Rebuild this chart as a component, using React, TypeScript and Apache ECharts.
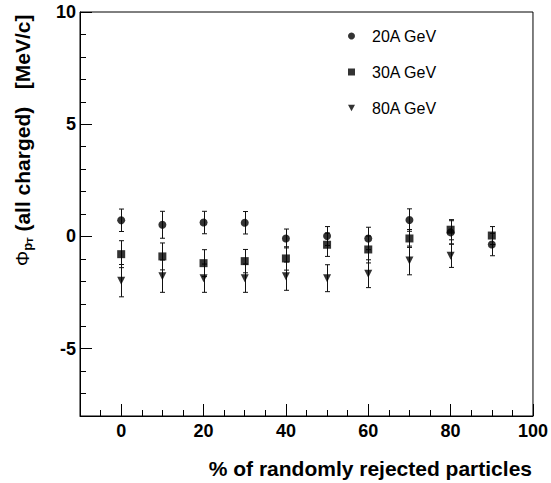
import React, { useEffect, useRef } from "react";
import * as echarts from "echarts";

const xPct = [0, 10, 20, 30, 40, 50, 60, 70, 80, 90];
const names = ["20A GeV", "30A GeV", "80A GeV"];
const y20 = [0.72, 0.52, 0.62, 0.61, -0.09, 0.02, -0.09, 0.73, 0.18, -0.36];
const e20 = [0.5, 0.6, 0.5, 0.5, 0.42, 0.42, 0.5, 0.5, 0.52, 0.5];
const y30 = [-0.79, -0.89, -1.19, -1.1, -0.98, -0.37, -0.58, -0.09, 0.3, 0.04];
const e30 = [0.6, 0.6, 0.6, 0.52, 0.52, 0.52, 0.6, 0.4, 0.45, 0.4];
const y80 = [-1.97, -1.77, -1.86, -1.86, -1.77, -1.86, -1.66, -1.07, -0.86];
const e80 = [0.72, 0.72, 0.63, 0.63, 0.63, 0.6, 0.62, 0.64, 0.52];
const xMajor = [0, 20, 40, 60, 80, 100];
const yMajor = [-5, 0, 5, 10];

const FONT = "'Liberation Sans', Arial, Helvetica, sans-serif";
const TRI = "path://M0,0L10,0L5,9Z";

function pts(ys: number[], es: number[]) {
  return ys.map((v, i) => [xPct[i], v, es[i]]);
}

function errSeries(name: string, ys: number[], es: number[]) {
  return {
    type: "custom",
    name: name + " err",
    z: 1,
    data: pts(ys, es),
    renderItem: (params: any, api: any) => {
      const x = api.value(0);
      const y = api.value(1);
      const e = api.value(2);
      const t = api.coord([x, y + e]);
      const b = api.coord([x, y - e]);
      const cx = Math.round(t[0]) + 0.5;
      const cap = 2.5;
      const st = { stroke: "#111", lineWidth: 1 };
      return {
        type: "group",
        children: [
          { type: "line", shape: { x1: cx, y1: t[1], x2: cx, y2: b[1] }, style: st },
          { type: "line", shape: { x1: cx - cap, y1: t[1], x2: cx + cap, y2: t[1] }, style: st },
          { type: "line", shape: { x1: cx - cap, y1: b[1], x2: cx + cap, y2: b[1] }, style: st },
        ],
      };
    },
  };
}

export default function App() {
  const ref = useRef<HTMLDivElement>(null);
  useEffect(() => {
    const chart = echarts.init(ref.current!, null, { renderer: "svg" });
    const axisBase = {
      axisLine: { show: true, onZero: false, lineStyle: { color: "#000", width: 1 } },
      splitLine: { show: false },
    };
    const minorBase = {
      axisLine: { show: false, onZero: false },
      splitLine: { show: false },
      axisTick: { show: true, inside: true, length: 6, lineStyle: { color: "#000", width: 1 } },
      axisLabel: { show: false },
    };
    chart.setOption({
      animation: false,
      backgroundColor: "#fff",
      grid: {
        left: 80,
        right: 18,
        top: 12,
        bottom: 67,
        show: true,
        borderColor: "#000",
        borderWidth: 1,
        backgroundColor: "transparent",
      },
      legend: {
        data: [
          { name: names[0], icon: "circle" },
          { name: names[1], icon: "rect" },
          { name: names[2], icon: TRI },
        ],
        orient: "vertical",
        left: 343,
        top: 21,
        itemWidth: 7,
        itemHeight: 7,
        itemGap: 16,
        selectedMode: false,
        textStyle: {
          fontFamily: FONT,
          fontSize: 16,
          color: "#000",
          lineHeight: 20,
          padding: [0, 0, 0, 12],
        },
      },
      xAxis: [
        {
          type: "value",
          min: -10,
          max: 100,
          position: "bottom",
          ...axisBase,
          axisTick: {
            show: true,
            inside: true,
            length: 12,
            customValues: xMajor,
            lineStyle: { color: "#000", width: 1 },
          },
          axisLabel: {
            show: true,
            customValues: xMajor,
            margin: 6,
            color: "#000",
            fontFamily: FONT,
            fontWeight: "bold",
            fontSize: 18,
          },
        },
        {
          type: "value",
          min: -10,
          max: 100,
          interval: 5,
          position: "bottom",
          ...minorBase,
        },
      ],
      yAxis: [
        {
          type: "value",
          min: -8,
          max: 10,
          position: "left",
          ...axisBase,
          axisTick: {
            show: true,
            inside: true,
            length: 12,
            customValues: yMajor,
            lineStyle: { color: "#000", width: 1 },
          },
          axisLabel: {
            show: true,
            customValues: yMajor,
            margin: 4,
            color: "#000",
            fontFamily: FONT,
            fontWeight: "bold",
            fontSize: 18,
          },
        },
        {
          type: "value",
          min: -8,
          max: 10,
          interval: 1,
          position: "left",
          ...minorBase,
        },
      ],
      graphic: [
        {
          type: "text",
          x: 532,
          y: 468,
          style: {
            text: "% of randomly rejected particles",
            align: "right",
            verticalAlign: "middle",
            fill: "#000",
            font: "bold 21px " + FONT,
          },
        },
        {
          type: "text",
          x: 22,
          y: 266,
          rotation: Math.PI / 2,
          style: {
            text: "{phi|Φ}{p|p}{t|T}{m| (all charged)   [MeV/c]}",
            align: "left",
            verticalAlign: "middle",
            fill: "#000",
            rich: {
              phi: { fontFamily: FONT, fontSize: 19, fontWeight: "normal", lineHeight: 24, fill: "#000" },
              p: { fontFamily: FONT, fontSize: 13, fontWeight: "bold", lineHeight: 10, verticalAlign: "bottom", fill: "#000" },
              t: { fontFamily: FONT, fontSize: 9, fontWeight: "bold", lineHeight: 12, verticalAlign: "bottom", fill: "#000" },
              m: { fontFamily: FONT, fontSize: 21, fontWeight: "bold", lineHeight: 24, fill: "#000" },
            },
          },
        },
      ],
      series: [
        errSeries(names[0], y20, e20),
        errSeries(names[1], y30, e30),
        errSeries(names[2], y80, e80),
        {
          type: "scatter",
          name: names[0],
          z: 3,
          symbol: "circle",
          symbolSize: 8,
          itemStyle: { color: "#000" },
          data: pts(y20, e20),
        },
        {
          type: "scatter",
          name: names[1],
          z: 3,
          symbol: "rect",
          symbolSize: 8,
          itemStyle: { color: "#000" },
          data: pts(y30, e30),
        },
        {
          type: "scatter",
          name: names[2],
          z: 3,
          symbol: TRI,
          symbolSize: [8, 8],
          itemStyle: { color: "#000" },
          data: pts(y80, e80),
        },
      ],
    });
    return () => chart.dispose();
  }, []);
  return (
    <div
      ref={ref}
      style={{ position: "fixed", left: 0, top: 0, width: 551, height: 483, background: "#fff" }}
    />
  );
}
